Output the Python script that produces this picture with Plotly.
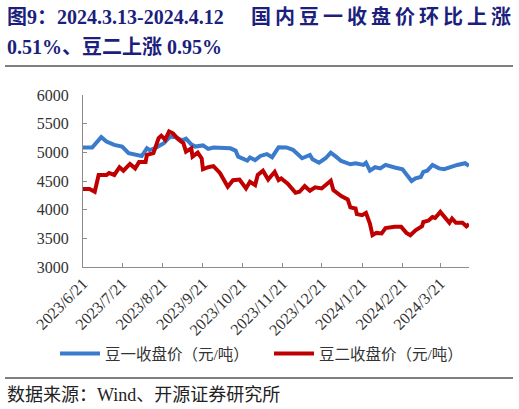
import plotly.graph_objects as go

# 豆一收盘价（元/吨）
dou1_dates = ['2023-06-21', '2023-06-28', '2023-07-05', '2023-07-09', '2023-07-15', '2023-07-21',
              '2023-07-26', '2023-08-03', '2023-08-05', '2023-08-09', '2023-08-11', '2023-08-15',
              '2023-08-22', '2023-08-24', '2023-08-27', '2023-08-31', '2023-09-05', '2023-09-08',
              '2023-09-12', '2023-09-15', '2023-09-21', '2023-09-25', '2023-09-29', '2023-10-12',
              '2023-10-16', '2023-10-18', '2023-10-25', '2023-10-27', '2023-10-31', '2023-11-04',
              '2023-11-09', '2023-11-13', '2023-11-18', '2023-11-24', '2023-11-29', '2023-12-06',
              '2023-12-12', '2023-12-14', '2023-12-19', '2023-12-24', '2023-12-28', '2024-01-01',
              '2024-01-05', '2024-01-12', '2024-01-16', '2024-01-22', '2024-01-24', '2024-01-27',
              '2024-01-31', '2024-02-04', '2024-02-08', '2024-02-15', '2024-02-21', '2024-02-25',
              '2024-02-28', '2024-03-02', '2024-03-06', '2024-03-08', '2024-03-11', '2024-03-15',
              '2024-03-20', '2024-03-24', '2024-03-29', '2024-04-03', '2024-04-09', '2024-04-12']
dou1_close = [5083, 5083, 5265, 5188, 5130, 5100,
              4985, 4955, 4935, 5070, 5040, 5070,
              5160, 5210, 5275, 5265, 5210, 5240,
              5140, 5100, 5120, 5060, 5085, 5070,
              5030, 4925, 4855, 4910, 4865, 4937,
              4970, 4915, 5090, 5085, 5045, 4897,
              4955, 4880, 4820, 4897, 4995, 4925,
              4850, 4792, 4810, 4780, 4820, 4680,
              4740, 4720, 4780, 4735, 4705, 4587,
              4500, 4545, 4570, 4660, 4680, 4780,
              4720, 4705, 4750, 4780, 4810, 4765]

# 豆二收盘价（元/吨）
dou2_dates = ['2023-06-21', '2023-06-26', '2023-06-30', '2023-07-03', '2023-07-09', '2023-07-11',
              '2023-07-15', '2023-07-19', '2023-07-22', '2023-07-27', '2023-07-31', '2023-08-03',
              '2023-08-08', '2023-08-09', '2023-08-14', '2023-08-18', '2023-08-20', '2023-08-23',
              '2023-08-26', '2023-08-29', '2023-09-02', '2023-09-06', '2023-09-08', '2023-09-12',
              '2023-09-13', '2023-09-17', '2023-09-20', '2023-09-21', '2023-09-25', '2023-09-29',
              '2023-10-04', '2023-10-10', '2023-10-14', '2023-10-19', '2023-10-24', '2023-10-27',
              '2023-10-31', '2023-11-02', '2023-11-06', '2023-11-10', '2023-11-15', '2023-11-18',
              '2023-11-20', '2023-11-25', '2023-12-01', '2023-12-04', '2023-12-08', '2023-12-12',
              '2023-12-16', '2023-12-21', '2023-12-28', '2023-12-30', '2024-01-05', '2024-01-10',
              '2024-01-12', '2024-01-16', '2024-01-17', '2024-01-21', '2024-01-24', '2024-01-27',
              '2024-01-29', '2024-02-01', '2024-02-05', '2024-02-08', '2024-02-15', '2024-02-20',
              '2024-02-24', '2024-02-27', '2024-03-02', '2024-03-07', '2024-03-08', '2024-03-12',
              '2024-03-15', '2024-03-17', '2024-03-21', '2024-03-24', '2024-03-28', '2024-03-30',
              '2024-04-02', '2024-04-07', '2024-04-10', '2024-04-12']
dou2_close = [4360, 4360, 4312, 4605, 4605, 4640,
              4605, 4740, 4680, 4797, 4720, 4830,
              4830, 4955, 4985, 5247, 5290, 5220,
              5363, 5330, 5230, 5160, 5013, 5070,
              4925, 4995, 4895, 4705, 4740, 4760,
              4640, 4400, 4515, 4525, 4370, 4487,
              4430, 4605, 4680, 4525, 4660, 4515,
              4545, 4455, 4295, 4312, 4410, 4330,
              4390, 4370, 4505, 4340, 4237, 4180,
              4040, 4020, 3922, 3905, 3945, 3758,
              3555, 3595, 3585, 3680, 3700, 3700,
              3595, 3555, 3640, 3710, 3785, 3810,
              3870, 3855, 3962, 3870, 3770, 3845,
              3770, 3770, 3710, 3750]

tick_dates = ['2023-06-21', '2023-07-21', '2023-08-21', '2023-09-21', '2023-10-21',
              '2023-11-21', '2023-12-21', '2024-01-21', '2024-02-21', '2024-03-21']
tick_labels = ['2023/6/21', '2023/7/21', '2023/8/21', '2023/9/21', '2023/10/21',
               '2023/11/21', '2023/12/21', '2024/1/21', '2024/2/21', '2024/3/21']
y_ticks = [3000, 3500, 4000, 4500, 5000, 5500, 6000]

W, H = 519, 409
L, R, T, B = 83, 50, 95, 142
pw = W - L - R
ph = H - T - B


def px_x(p):
    return (p - L) / pw


def px_y(p):
    return 1 - (p - T) / ph


FONT = 'Liberation Serif, Noto Sans CJK SC, serif'
NAVY = '#1c1f7c'

fig = go.Figure()
fig.add_trace(go.Scatter(x=dou1_dates, y=dou1_close, mode='lines', name='豆一收盘价（元/吨）',
                         line=dict(color='#3a7bcb', width=4)))
fig.add_trace(go.Scatter(x=dou2_dates, y=dou2_close, mode='lines', name='豆二收盘价（元/吨）',
                         line=dict(color='#c00000', width=4)))

fig.update_xaxes(type='date', range=['2023-06-21', '2024-04-12'],
                 tickvals=tick_dates, ticktext=tick_labels, tickangle=-45,
                 showline=True, linecolor='#8c8c8c', linewidth=1,
                 ticks='inside', ticklen=4, tickcolor='#8c8c8c',
                 showgrid=False, zeroline=False, automargin=False,
                 tickfont=dict(family=FONT, size=16, color='#333333'))
fig.update_yaxes(range=[3000, 6000], tickvals=y_ticks,
                 showline=True, linecolor='#8c8c8c', linewidth=1,
                 ticks='inside', ticklen=4, tickcolor='#8c8c8c',
                 showgrid=False, zeroline=False, ticklabelstandoff=10, automargin=False,
                 tickfont=dict(family=FONT, size=16, color='#333333'))

# title
fig.add_annotation(x=px_x(5), y=px_y(17), xref='paper', yref='paper', xanchor='left', yanchor='middle',
                   text='<b>图9：2024.3.13-2024.4.12</b>', showarrow=False,
                   font=dict(family=FONT, size=20, color=NAVY))
fig.add_annotation(x=px_x(249), y=px_y(17), xref='paper', yref='paper', xanchor='left', yanchor='middle',
                   text='<b><span style="letter-spacing:4px">国内豆一收盘价环比上涨</span></b>',
                   showarrow=False, font=dict(family=FONT, size=20, color=NAVY))
fig.add_annotation(x=px_x(5), y=px_y(47), xref='paper', yref='paper', xanchor='left', yanchor='middle',
                   text='<b>0.51%、豆二上涨 0.95%</b>', showarrow=False,
                   font=dict(family=FONT, size=20, color=NAVY))

# source
fig.add_annotation(x=px_x(5), y=px_y(395), xref='paper', yref='paper', xanchor='left', yanchor='middle',
                   text='数据来源：Wind、开源证券研究所', showarrow=False,
                   font=dict(family=FONT, size=18, color='#222222'))

for yy in (66, 378):
    fig.add_shape(type='line', xref='paper', yref='paper', x0=px_x(5), x1=px_x(513),
                  y0=px_y(yy), y1=px_y(yy), line=dict(color='#7f7f7f', width=2))

fig.update_layout(width=W, height=H, margin=dict(l=L, r=R, t=T, b=B, autoexpand=False),
                  paper_bgcolor='white', plot_bgcolor='white', showlegend=True,
                  legend=dict(orientation='h', x=px_x(55), y=px_y(354), xanchor='left', yanchor='middle',
                              itemwidth=40, entrywidth=159,
                              font=dict(family=FONT, size=15.5, color='#333333'),
                              bgcolor='rgba(0,0,0,0)'))

# page body has a default 8px margin; drop it so the figure sits at the window corner
fig.write_html('out.html', config={'displayModeBar': False},
               post_script="document.body.style.margin='0';")
